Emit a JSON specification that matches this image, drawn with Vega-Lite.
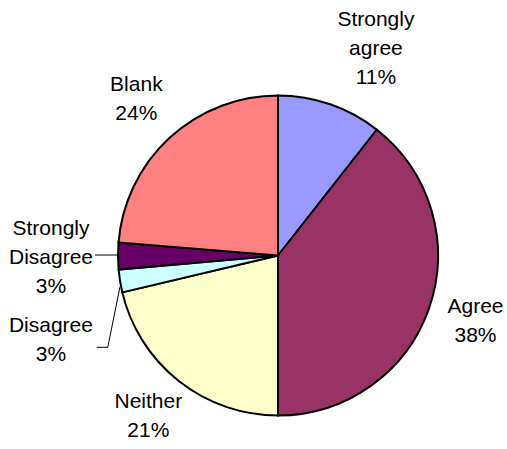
{
  "$schema": "https://vega.github.io/schema/vega-lite/v6.json",
  "width": 320,
  "height": 320,
  "autosize": "none",
  "padding": {"left": 118, "top": 95.5, "right": 69, "bottom": 33.5},
  "background": "white",
  "config": {"view": {"stroke": null}},
  "datasets": {
    "slices": [
      {"category": "Strongly agree", "value": 10.6, "order": 1, "label": "Strongly\nagree\n11%"},
      {"category": "Agree", "value": 39.4, "order": 2, "label": "Agree\n38%"},
      {"category": "Neither", "value": 21.3, "order": 3, "label": "Neither\n21%"},
      {"category": "Disagree", "value": 2.3, "order": 4, "label": "Disagree\n3%"},
      {"category": "Strongly Disagree", "value": 2.7, "order": 5, "label": "Strongly\nDisagree\n3%"},
      {"category": "Blank", "value": 23.7, "order": 6, "label": "Blank\n24%"}
    ],
    "leaders": [
      {"id": "sd", "pt": 1, "x": -1.144, "y": 0.003},
      {"id": "sd", "pt": 2, "x": -0.998, "y": 0.003},
      {"id": "d", "pt": 1, "x": -1.133, "y": -0.574},
      {"id": "d", "pt": 2, "x": -1.064, "y": -0.574},
      {"id": "d", "pt": 3, "x": -0.9875, "y": -0.195}
    ]
  },
  "layer": [
    {
      "data": {"name": "slices"},
      "mark": {"type": "arc", "stroke": "black", "strokeWidth": 2},
      "encoding": {
        "theta": {"field": "value", "type": "quantitative", "stack": true},
        "order": {"field": "order", "type": "quantitative"},
        "color": {
          "field": "category",
          "type": "nominal",
          "legend": null,
          "scale": {
            "domain": ["Strongly agree", "Agree", "Neither", "Disagree", "Strongly Disagree", "Blank"],
            "range": ["#9999FF", "#993366", "#FFFFCC", "#CCFFFF", "#660066", "#FF8080"]
          }
        }
      }
    },
    {
      "data": {"name": "slices"},
      "mark": {"type": "text", "radius": 209, "dy": -17, "font": "Liberation Sans", "fontSize": 21, "lineBreak": "\n", "lineHeight": 29, "color": "black", "align": "center", "baseline": "middle"},
      "encoding": {
        "theta": {"field": "value", "type": "quantitative", "stack": true},
        "order": {"field": "order", "type": "quantitative"},
        "text": {"condition": {"test": "datum.category === 'Agree' || datum.category === 'Neither' || datum.category === 'Blank'", "field": "label"}, "value": ""}
      }
    },
    {
      "data": {"name": "slices"},
      "mark": {"type": "text", "radius": 220, "dx": 26, "dy": -28, "font": "Liberation Sans", "fontSize": 21, "lineBreak": "\n", "lineHeight": 29, "color": "black", "align": "center", "baseline": "middle"},
      "encoding": {
        "theta": {"field": "value", "type": "quantitative", "stack": true},
        "order": {"field": "order", "type": "quantitative"},
        "text": {"condition": {"test": "datum.category === 'Strongly agree'", "field": "label"}, "value": ""}
      }
    },
    {
      "data": {"name": "slices"},
      "mark": {"type": "text", "radius": 227, "dy": -27, "font": "Liberation Sans", "fontSize": 21, "lineBreak": "\n", "lineHeight": 29, "color": "black", "align": "center", "baseline": "middle"},
      "encoding": {
        "theta": {"field": "value", "type": "quantitative", "stack": true},
        "order": {"field": "order", "type": "quantitative"},
        "text": {"condition": {"test": "datum.category === 'Strongly Disagree'", "field": "label"}, "value": ""}
      }
    },
    {
      "data": {"name": "slices"},
      "mark": {"type": "text", "radius": 227, "dx": -3, "dy": 34, "font": "Liberation Sans", "fontSize": 21, "lineBreak": "\n", "lineHeight": 29, "color": "black", "align": "center", "baseline": "middle"},
      "encoding": {
        "theta": {"field": "value", "type": "quantitative", "stack": true},
        "order": {"field": "order", "type": "quantitative"},
        "text": {"condition": {"test": "datum.category === 'Disagree'", "field": "label"}, "value": ""}
      }
    },
    {
      "data": {"name": "leaders"},
      "mark": {"type": "line", "color": "black", "strokeWidth": 1, "clip": false},
      "encoding": {
        "x": {"field": "x", "type": "quantitative", "axis": null, "scale": {"domain": [-1, 1], "nice": false, "zero": false}},
        "y": {"field": "y", "type": "quantitative", "axis": null, "scale": {"domain": [-1, 1], "nice": false, "zero": false}},
        "detail": {"field": "id", "type": "nominal"},
        "order": {"field": "pt", "type": "quantitative"}
      }
    }
  ]
}
